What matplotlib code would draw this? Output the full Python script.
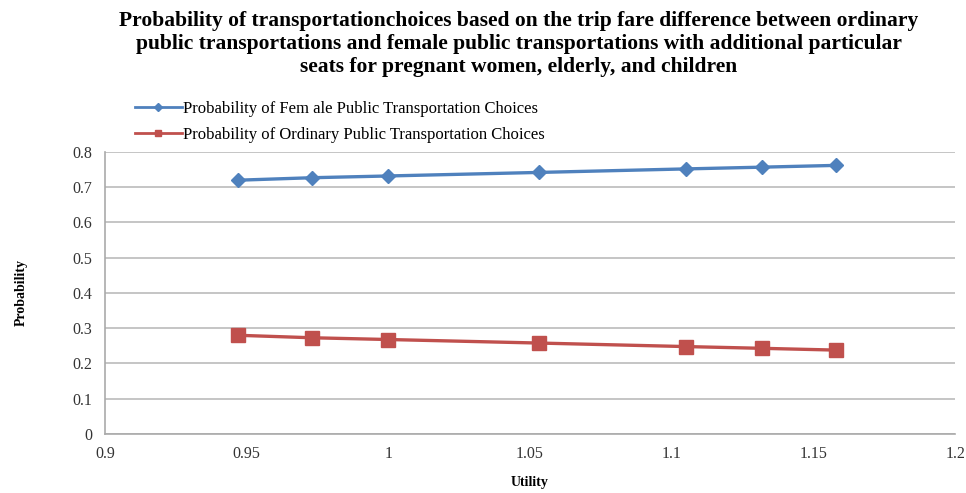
import matplotlib.pyplot as plt
from matplotlib.lines import Line2D

plt.rcParams['font.family'] = ['Liberation Serif', 'DejaVu Serif']

# utilité de chaque scénario de différence de tarif
utilite = [0.947, 0.973, 1.0, 1.053, 1.105, 1.132, 1.158]
p_femme = [0.720, 0.727, 0.732, 0.742, 0.752, 0.757, 0.762]
p_ordinaire = [0.280, 0.273, 0.268, 0.258, 0.248, 0.243, 0.238]

bleu = '#4F81BD'
rouge = '#C0504D'

fig = plt.figure(figsize=(9.66, 4.93), dpi=100)
ax = fig.add_axes([0.1087, 0.1197, 0.88, 0.572])

ax.plot(utilite, p_femme, color=bleu, lw=2.4, marker='D', ms=7.5, zorder=3)
ax.plot(utilite, p_ordinaire, color=rouge, lw=2.4, marker='s', ms=10, zorder=3)

ax.set_xlim(0.9, 1.2)
ax.set_ylim(0, 0.8)
ax.set_xticks([0.9, 0.95, 1.0, 1.05, 1.1, 1.15, 1.2])
ax.set_xticklabels(['0.9', '0.95', '1', '1.05', '1.1', '1.15', '1.2'])
ax.set_yticks([0, 0.1, 0.2, 0.3, 0.4, 0.5, 0.6, 0.7, 0.8])
ax.set_yticklabels(['0', '0.1', '0.2', '0.3', '0.4', '0.5', '0.6', '0.7', '0.8'])
ax.tick_params(length=0, labelsize=11.5, pad=9, colors='#333333')
ax.yaxis.grid(True, color='#BBBBBB', lw=1.2)
for s in ['top', 'right']:
    ax.spines[s].set_visible(False)
for s in ['left', 'bottom']:
    ax.spines[s].set_color('#AAAAAA')
    ax.spines[s].set_linewidth(1.2)

ax.set_xlabel('Utility', fontsize=10, fontweight='bold', labelpad=10)
ax.set_ylabel('Probability', fontsize=10, fontweight='bold', labelpad=32)

# légende en haut à gauche, hors du cadre
poignees = [Line2D([], [], color=bleu, lw=2, marker='D', ms=4),
            Line2D([], [], color=rouge, lw=2, marker='s', ms=5)]
etiquettes = ['Probability of Fem ale Public Transportation Choices',
              'Probability of Ordinary Public Transportation Choices']
fig.legend(poignees, etiquettes, loc='upper left', bbox_to_anchor=(0.133, 0.808),
           frameon=False, fontsize=12, handlelength=2.8, handletextpad=0.1,
           labelspacing=0.6, borderaxespad=0)

fig.text(0.537, 0.978,
         'Probability of transportationchoices based on the trip fare difference between ordinary\n'
         'public transportations and female public transportations with additional particular\n'
         'seats for pregnant women, elderly, and children',
         ha='center', va='top', fontsize=15.5, fontweight='bold', linespacing=1.22)

fig.savefig('out.png', dpi=100)
